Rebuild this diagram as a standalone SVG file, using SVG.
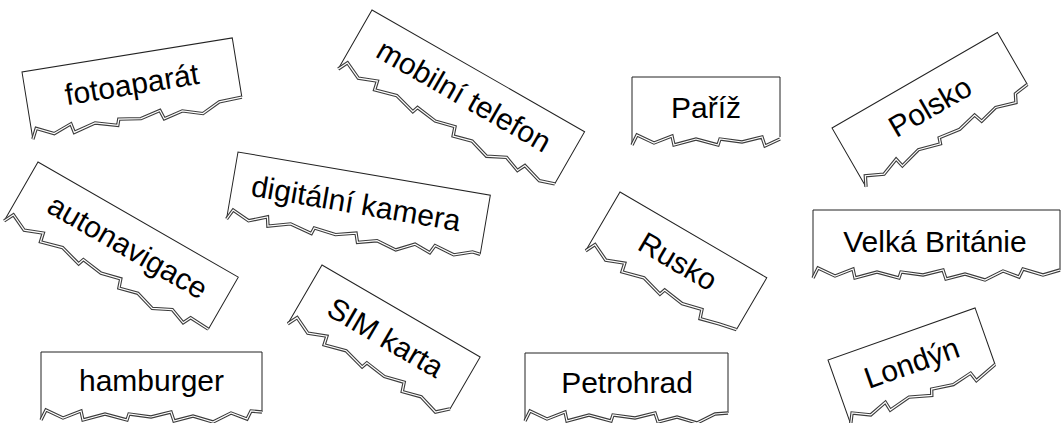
<svg xmlns="http://www.w3.org/2000/svg" width="1064" height="423" viewBox="0 0 1064 423">
<style>
.bg{fill:#fff;stroke:none}
.edge{fill:none;stroke:#222;stroke-width:1;stroke-linejoin:miter}
.tear{fill:none;stroke:#3c3c3c;stroke-width:3.4;stroke-linejoin:miter;stroke-miterlimit:10}
.tin{fill:none;stroke:#fff;stroke-width:1.2;stroke-linejoin:miter;stroke-miterlimit:10}
.lbl{font-family:"Liberation Sans",Arial,Helvetica,sans-serif;font-size:30px;fill:#000;text-anchor:middle}
</style>
<rect width="1064" height="423" fill="#fff"/>

<g id="card-fotoaparat" transform="translate(22,72) rotate(-9.2)">
<rect class="bg" x="0" y="0" width="213" height="60"/>
<path class="edge" d="M0,68L0,0L213,0L213,60"/>
<path class="tear" d="M0,68L5,58L22,66L40,59L42,68L64,62L86,68L88,62L110,65L130,60L133,69L152,64L172,70L190,61L213,60"/>
<path class="tin" d="M0,68L5,58L22,66L40,59L42,68L64,62L86,68L88,62L110,65L130,60L133,69L152,64L172,70L190,61L213,60"/>
<text class="lbl" x="106.5" y="40">fotoaparát</text>
</g>

<g id="card-mobilni-telefon" transform="translate(372,10) rotate(29.8)">
<rect class="bg" x="0" y="0" width="245" height="60"/>
<path class="edge" d="M0,68L0,0L245,0L245,60"/>
<path class="tear" d="M0,68L5,58L22,66L40,59L42,68L64,62L86,68L88,62L110,65L130,60L133,69L152,64L172,70L190,61L206,67L210,59L230,65L245,60"/>
<path class="tin" d="M0,68L5,58L22,66L40,59L42,68L64,62L86,68L88,62L110,65L130,60L133,69L152,64L172,70L190,61L206,67L210,59L230,65L245,60"/>
<text class="lbl" x="122.5" y="39">mobilní telefon</text>
</g>

<g id="card-pariz" transform="translate(632,77)">
<rect class="bg" x="0" y="0" width="148" height="60"/>
<path class="edge" d="M0,68L0,0L148,0L148,60"/>
<path class="tear" d="M0,68L5,58L22,66L40,59L42,68L64,62L86,68L88,62L110,65L130,60L133,69L148,62"/>
<path class="tin" d="M0,68L5,58L22,66L40,59L42,68L64,62L86,68L88,62L110,65L130,60L133,69L148,62"/>
<text class="lbl" x="74" y="41">Paříž</text>
</g>

<g id="card-polsko" transform="translate(832,128) rotate(-30)">
<rect class="bg" x="0" y="0" width="191" height="60"/>
<path class="edge" d="M0,68L0,0L191,0L191,60"/>
<path class="tear" d="M0,68L5,58L22,66L40,59L42,68L64,62L86,68L88,62L110,65L130,60L133,69L152,64L172,70L176,62L191,60"/>
<path class="tin" d="M0,68L5,58L22,66L40,59L42,68L64,62L86,68L88,62L110,65L130,60L133,69L152,64L172,70L176,62L191,60"/>
<text class="lbl" x="95.5" y="41">Polsko</text>
</g>

<g id="card-autonavigace" transform="translate(38,162) rotate(29.9)">
<rect class="bg" x="0" y="0" width="231" height="60"/>
<path class="edge" d="M0,68L0,0L231,0L231,60"/>
<path class="tear" d="M0,68L5,58L22,66L40,59L42,68L64,62L86,68L88,62L110,65L130,60L133,69L152,64L172,70L190,61L206,67L210,59L231,60"/>
<path class="tin" d="M0,68L5,58L22,66L40,59L42,68L64,62L86,68L88,62L110,65L130,60L133,69L152,64L172,70L190,61L206,67L210,59L231,60"/>
<text class="lbl" x="120" y="39">autonavigace</text>
</g>

<g id="card-digitalni-kamera" transform="translate(238,152) rotate(9.7)">
<rect class="bg" x="0" y="0" width="256" height="60"/>
<path class="edge" d="M0,68L0,0L256,0L256,60"/>
<path class="tear" d="M0,68L5,58L22,66L40,59L42,68L64,62L86,68L88,62L110,65L130,60L133,69L152,64L172,70L190,61L206,67L210,59L230,65L248,59L256,60"/>
<path class="tin" d="M0,68L5,58L22,66L40,59L42,68L64,62L86,68L88,62L110,65L130,60L133,69L152,64L172,70L190,61L206,67L210,59L230,65L248,59L256,60"/>
<text class="lbl" x="125" y="41">digitální kamera</text>
</g>

<g id="card-rusko" transform="translate(620,192) rotate(30.3)">
<rect class="bg" x="0" y="0" width="170" height="60"/>
<path class="edge" d="M0,68L0,0L170,0L170,60"/>
<path class="tear" d="M0,68L5,58L22,66L40,59L42,68L64,62L86,68L88,62L110,65L130,60L133,69L152,64L170,60"/>
<path class="tin" d="M0,68L5,58L22,66L40,59L42,68L64,62L86,68L88,62L110,65L130,60L133,69L152,64L170,60"/>
<text class="lbl" x="85" y="41">Rusko</text>
</g>

<g id="card-velka-britanie" transform="translate(813,210)">
<rect class="bg" x="0" y="0" width="247" height="60"/>
<path class="edge" d="M0,68L0,0L247,0L247,60"/>
<path class="tear" d="M0,68L5,58L22,66L40,59L42,68L64,62L86,68L88,62L110,65L130,60L133,69L152,64L172,70L190,61L206,67L210,59L230,65L247,60"/>
<path class="tin" d="M0,68L5,58L22,66L40,59L42,68L64,62L86,68L88,62L110,65L130,60L133,69L152,64L172,70L190,61L206,67L210,59L230,65L247,60"/>
<text class="lbl" x="122" y="42">Velká Británie</text>
</g>

<g id="card-hamburger" transform="translate(41,352)">
<rect class="bg" x="0" y="0" width="221" height="60"/>
<path class="edge" d="M0,68L0,0L221,0L221,60"/>
<path class="tear" d="M0,68L5,58L22,66L40,59L42,68L64,62L86,68L88,62L110,65L130,60L133,69L152,64L172,70L190,61L206,67L210,59L221,60"/>
<path class="tin" d="M0,68L5,58L22,66L40,59L42,68L64,62L86,68L88,62L110,65L130,60L133,69L152,64L172,70L190,61L206,67L210,59L221,60"/>
<text class="lbl" x="110.5" y="39">hamburger</text>
</g>

<g id="card-sim-karta" transform="translate(322,265) rotate(30.2)">
<rect class="bg" x="0" y="0" width="183" height="60"/>
<path class="edge" d="M0,68L0,0L183,0L183,60"/>
<path class="tear" d="M0,68L5,58L22,66L40,59L42,68L64,62L86,68L88,62L110,65L130,60L133,69L152,64L172,70L183,60"/>
<path class="tin" d="M0,68L5,58L22,66L40,59L42,68L64,62L86,68L88,62L110,65L130,60L133,69L152,64L172,70L183,60"/>
<text class="lbl" x="91.5" y="41">SIM karta</text>
</g>

<g id="card-petrohrad" transform="translate(525,353)">
<rect class="bg" x="0" y="0" width="203" height="60"/>
<path class="edge" d="M0,68L0,0L203,0L203,60"/>
<path class="tear" d="M0,68L5,58L22,66L40,59L42,68L64,62L86,68L88,62L110,65L130,60L133,69L152,64L172,70L190,61L203,60"/>
<path class="tin" d="M0,68L5,58L22,66L40,59L42,68L64,62L86,68L88,62L110,65L130,60L133,69L152,64L172,70L190,61L203,60"/>
<text class="lbl" x="102" y="40">Petrohrad</text>
</g>

<g id="card-londyn" transform="translate(828,360) rotate(-19.5)">
<rect class="bg" x="0" y="0" width="156" height="60"/>
<path class="edge" d="M0,68L0,0L156,0L156,60"/>
<path class="tear" d="M0,68L5,58L22,66L40,59L42,68L64,62L86,68L88,62L110,65L130,60L133,69L156,60"/>
<path class="tin" d="M0,68L5,58L22,66L40,59L42,68L64,62L86,68L88,62L110,65L130,60L133,69L156,60"/>
<text class="lbl" x="78" y="41">Londýn</text>
</g>
</svg>
